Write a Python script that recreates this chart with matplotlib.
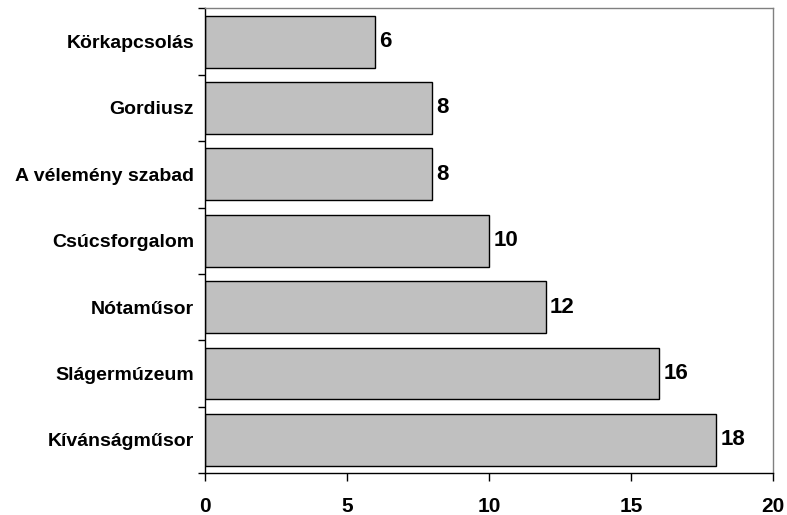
import matplotlib
matplotlib.use('Agg')
import matplotlib.pyplot as plt
from matplotlib.ticker import FixedLocator, NullFormatter
import numpy as np

categories = ['Kívánságműsor', 'Slágermúzeum', 'Nótaműsor', 'Csúcsforgalom',
              'A vélemény szabad', 'Gordiusz', 'Körkapcsolás']
values = [18, 16, 12, 10, 8, 8, 6]
x_ticks = [0, 5, 10, 15, 20]

plt.rcParams['font.family'] = ['Liberation Sans', 'DejaVu Sans']
plt.rcParams['font.weight'] = 'bold'

fig = plt.figure(figsize=(7.87, 5.15), dpi=100)
ax = fig.add_axes([0.2605, 0.0816, 0.7215, 0.902])

y = np.arange(len(categories))
ax.barh(y, values, height=0.78, color='#c0c0c0', edgecolor='black', linewidth=1)

for yi, v in zip(y, values):
    ax.text(v + 0.15, yi, str(v), va='center', ha='left', fontsize=16,
            fontweight='bold')

ax.set_xlim(0, 20)
ax.set_ylim(-0.5, len(categories) - 0.5)
ax.set_xticks(x_ticks)
ax.set_xticklabels([str(t) for t in x_ticks], fontsize=15, fontweight='bold')

# category names sit between boundary ticks
ax.set_yticks(y)
ax.set_yticklabels(categories, fontsize=14, fontweight='bold')
ax.tick_params(axis='y', which='major', length=0, pad=8)
ax.yaxis.set_minor_locator(FixedLocator(np.arange(-0.5, len(categories), 1)))
ax.yaxis.set_minor_formatter(NullFormatter())
ax.tick_params(axis='y', which='minor', length=5, direction='out', width=1)
ax.tick_params(axis='x', length=6, direction='out', width=1, pad=11.5)

for side in ['left', 'bottom']:
    ax.spines[side].set_color('black')
    ax.spines[side].set_linewidth(1)
for side in ['top', 'right']:
    ax.spines[side].set_color('#808080')
    ax.spines[side].set_linewidth(1)

fig.savefig('out.png', dpi=100)
